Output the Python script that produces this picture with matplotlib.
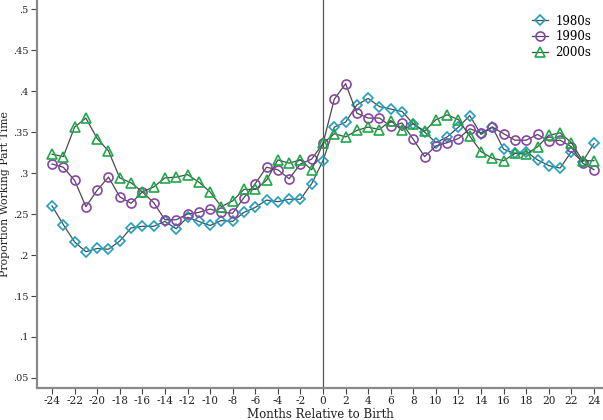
import matplotlib
matplotlib.use("Agg")
import matplotlib.pyplot as plt
import numpy as np

months = list(range(-24, 25))

s1980 = [0.260, 0.237, 0.216, 0.204, 0.208, 0.207, 0.217, 0.233, 0.235, 0.235,
         0.241, 0.232, 0.246, 0.241, 0.236, 0.242, 0.241, 0.252, 0.258, 0.267,
         0.265, 0.268, 0.268, 0.287, 0.315, 0.356, 0.362, 0.383, 0.391, 0.381,
         0.378, 0.375, 0.360, 0.350, 0.337, 0.344, 0.356, 0.370, 0.347, 0.356,
         0.329, 0.324, 0.326, 0.316, 0.309, 0.306, 0.326, 0.314, 0.336]

s1990 = [0.311, 0.307, 0.291, 0.259, 0.279, 0.295, 0.271, 0.263, 0.277, 0.264,
         0.243, 0.243, 0.250, 0.252, 0.256, 0.252, 0.251, 0.270, 0.287, 0.307,
         0.304, 0.293, 0.311, 0.317, 0.336, 0.390, 0.409, 0.373, 0.367, 0.367,
         0.357, 0.361, 0.341, 0.320, 0.333, 0.337, 0.342, 0.354, 0.349, 0.356,
         0.348, 0.340, 0.340, 0.347, 0.339, 0.340, 0.332, 0.312, 0.304]

s2000 = [0.323, 0.320, 0.356, 0.367, 0.342, 0.327, 0.294, 0.288, 0.277, 0.283,
         0.294, 0.295, 0.298, 0.289, 0.277, 0.259, 0.266, 0.280, 0.280, 0.291,
         0.316, 0.312, 0.316, 0.304, 0.336, 0.348, 0.344, 0.352, 0.356, 0.353,
         0.364, 0.352, 0.360, 0.351, 0.365, 0.371, 0.365, 0.345, 0.326, 0.318,
         0.315, 0.324, 0.323, 0.332, 0.346, 0.349, 0.337, 0.315, 0.315]

series_labels = ["1980s", "1990s", "2000s"]
yticks = [0.05, 0.1, 0.15, 0.2, 0.25, 0.3, 0.35, 0.4, 0.45, 0.5]
ytick_labels = [".05", ".1", ".15", ".2", ".25", ".3", ".35", ".4", ".45", ".5"]
xticks = list(range(-24, 25, 2))

plt.rcParams['font.family'] = ['DejaVu Serif']
plt.rcParams['axes.unicode_minus'] = False

fig = plt.figure(figsize=(6.03, 4.20), dpi=100)
ax = fig.add_axes([37/603, 32/420, 1 - 37/603, 1 - 32/420])

line_col = "#4a4a4a"
styles = [
    dict(marker="D", color="#1f9fbf", ms=4.6),
    dict(marker="o", color="#8a44ab", ms=6.5),
    dict(marker="^", color="#1fa84a", ms=7.0),
]
for data, lab, st in zip([s1980, s1990, s2000], series_labels, styles):
    ax.plot(months, data, color=line_col, lw=0.9, marker=st["marker"],
            ms=st["ms"], mfc="none", mec=st["color"], mew=1.2, label=lab)

ax.axvline(0, color="#555555", lw=0.9, zorder=0)

ax.set_xlim(-25.33, 24.8)
ax.set_ylim(0.0378, 0.511)
ax.set_yticks(yticks)
ax.set_yticklabels(ytick_labels)
ax.set_xticks(xticks)

for s in ["top", "right"]:
    ax.spines[s].set_visible(False)
for s in ["left", "bottom"]:
    ax.spines[s].set_color("#8a8a8a")
    ax.spines[s].set_linewidth(1.6)

ax.tick_params(axis="both", colors="#444444", length=4, width=0.8,
               labelcolor="#222222", pad=2)
ax.tick_params(axis="x", labelsize=7.6)
ax.tick_params(axis="y", labelsize=7.0)
ax.set_xlabel("Months Relative to Birth", fontsize=8.5, color="#222222", labelpad=1)
ax.set_ylabel("Proportion Working Part Time", fontsize=7.8, color="#222222")
ax.yaxis.set_label_coords(-26.5/566, 0.5)

leg = ax.legend(loc="upper right", frameon=False, fontsize=8.5,
                bbox_to_anchor=(0.998, 0.99), handlelength=1.4, labelspacing=0.25,
                handletextpad=0.6)

fig.savefig("out.png", dpi=100)
